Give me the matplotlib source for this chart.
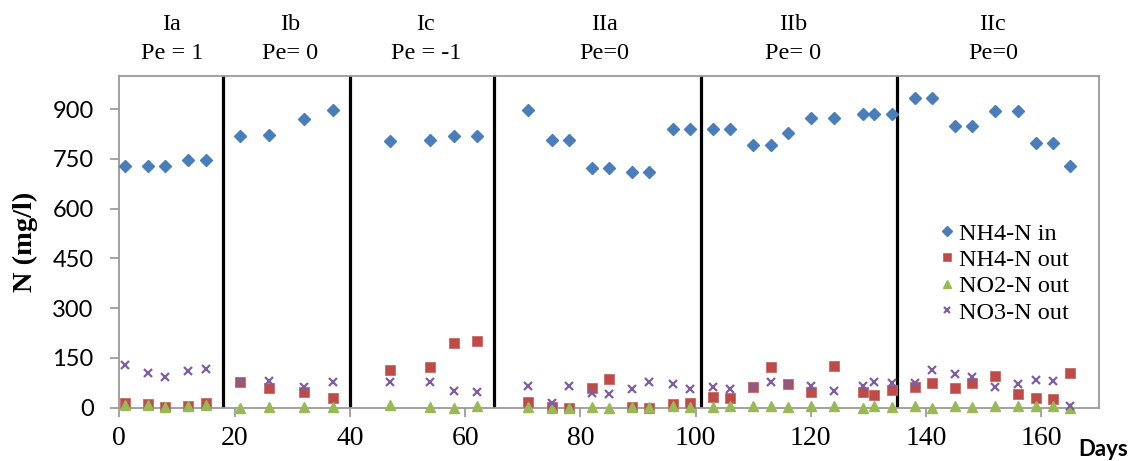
import matplotlib
matplotlib.use("Agg")
import matplotlib.pyplot as plt
from matplotlib.transforms import blended_transform_factory

# ---- data ----
days = [1, 5, 8, 12, 15, 21, 26, 32, 37, 47, 54, 58, 62,
        71, 75, 78, 82, 85, 89, 92, 96, 99,
        103, 106, 110, 113, 116, 120, 124, 129, 131, 134,
        138, 141, 145, 148, 152, 156, 159, 162, 165]
nh4_in = [727, 727, 727, 746, 746, 819, 821, 870, 898, 804, 806, 819, 819,
          898, 806, 806, 723, 723, 711, 711, 839, 839,
          839, 839, 792, 792, 827, 873, 873, 886, 886, 886,
          935, 935, 850, 850, 895, 895, 797, 797, 728]
nh4_out = [15, 11, 3, 5, 14, 76, 58, 46, 29, 114, 122, 195, 200,
           17, 1, 0, 58, 86, 1, 0, 10, 14,
           33, 28, 63, 121, 70, 46, 124, 47, 38, 54,
           62, 74, 60, 75, 95, 42, 30, 26, 104]
no2_out = [8, 7, 3, 5, 8, 0, 2, 2, 3, 8, 1, 0, 4,
           3, 0, 0, 3, 0, 1, 2, 5, 2,
           3, 4, 6, 4, 2, 5, 4, 0, 5, 2,
           6, 0, 6, 1, 4, 4, 4, 5, 0]
no3_out = [127, 104, 92, 111, 117, 77, 81, 61, 76, 76, 77, 49, 46,
           65, 13, 65, 43, 40, 56, 78, 70, 56,
           62, 56, 63, 78, 70, 66, 49, 65, 77, 74,
           75, 114, 101, 92, 61, 70, 83, 81, 5]
series_labels = ["NH4-N in", "NH4-N out", "NO2-N out", "NO3-N out"]
phase_bounds = [18, 40, 65, 101, 135]
phase_names = ["Ia", "Ib", "Ic", "IIa", "IIb", "IIc"]
phase_pe = ["Pe = 1", "Pe= 0", "Pe = -1", "Pe=0", "Pe= 0", "Pe=0"]
phase_label_x = [9.1, 29.6, 53.2, 84.2, 116.9, 151.6]
x_ticks = [0, 20, 40, 60, 80, 100, 120, 140, 160]
y_ticks = [0, 150, 300, 450, 600, 750, 900]

W, H = 1136, 461
fig = plt.figure(figsize=(W / 100, H / 100), dpi=100)
L, R, T, B = 119.3, 1099, 76, 407.5
ax = fig.add_axes([L / W, 1 - B / H, (R - L) / W, (B - T) / H])

ax.set_xlim(0, 170)
ax.set_ylim(0, 1000)

for xb in phase_bounds:
    ax.axvline(xb, color="black", lw=2.3, zorder=1)

ax.plot(days, nh4_in, ls="none", marker="D", ms=5.8, color="#4A7EBB",
        mec="#4A7EBB", label=series_labels[0], zorder=3, clip_on=False)
ax.plot(days, nh4_out, ls="none", marker="s", ms=6.6, color="#BE4B48",
        mec="#C76A67", mew=0.6, label=series_labels[1], zorder=3, clip_on=False)
ax.plot(days, no2_out, ls="none", marker="^", ms=6.8, color="#98B954",
        mec="#98B954", label=series_labels[2], zorder=4, clip_on=False)
ax.plot(days, no3_out, ls="none", marker="x", ms=6.2, mew=1.6,
        color="#7D5FA0", label=series_labels[3], zorder=5, clip_on=False)

ax.set_xticks(x_ticks)
ax.set_yticks(y_ticks)
ax.set_xticklabels([str(v) for v in x_ticks], fontfamily="Liberation Serif",
                   fontsize=20)
ax.set_yticklabels([str(v) for v in y_ticks], fontfamily="Lato", fontsize=17)
ax.tick_params(axis="y", direction="out", length=6.5, width=1.1,
               color="#8C8C8C", pad=12)
ax.tick_params(axis="x", direction="out", length=6.5, width=1.1,
               color="#8C8C8C", pad=7)
for s in ax.spines.values():
    s.set_color("#9A9A9A")
    s.set_linewidth(1.3)

# phase headers
tr = blended_transform_factory(ax.transData, fig.transFigure)
for xl, nm, pe in zip(phase_label_x, phase_names, phase_pe):
    fig.text(xl, 1 - 30 / H, nm, transform=tr, ha="center", va="baseline",
             fontfamily="Liberation Serif", fontsize=17.5)
    fig.text(xl, 1 - 59 / H, pe, transform=tr, ha="center", va="baseline",
             fontfamily="Liberation Serif", fontsize=17.5)

fig.text(25 / W, 1 - 242 / H, "N (mg/l)", rotation=90, ha="center",
         va="center", fontfamily="Liberation Serif", fontweight="bold",
         fontsize=20.5)
fig.text(1103 / W, 1 - 449 / H, "Days", ha="center", va="center",
         fontfamily="Lato", fontweight="bold", fontsize=16)

leg = ax.legend(loc="upper left", bbox_to_anchor=(937 / W, 1 - 222.5 / H),
                bbox_transform=fig.transFigure, frameon=False,
                prop={"family": "Liberation Serif", "size": 17.5},
                handlelength=0.85, handletextpad=0.05, labelspacing=0.18,
                borderpad=0, borderaxespad=0, markerscale=0.8)

fig.savefig("out.png", dpi=100)
